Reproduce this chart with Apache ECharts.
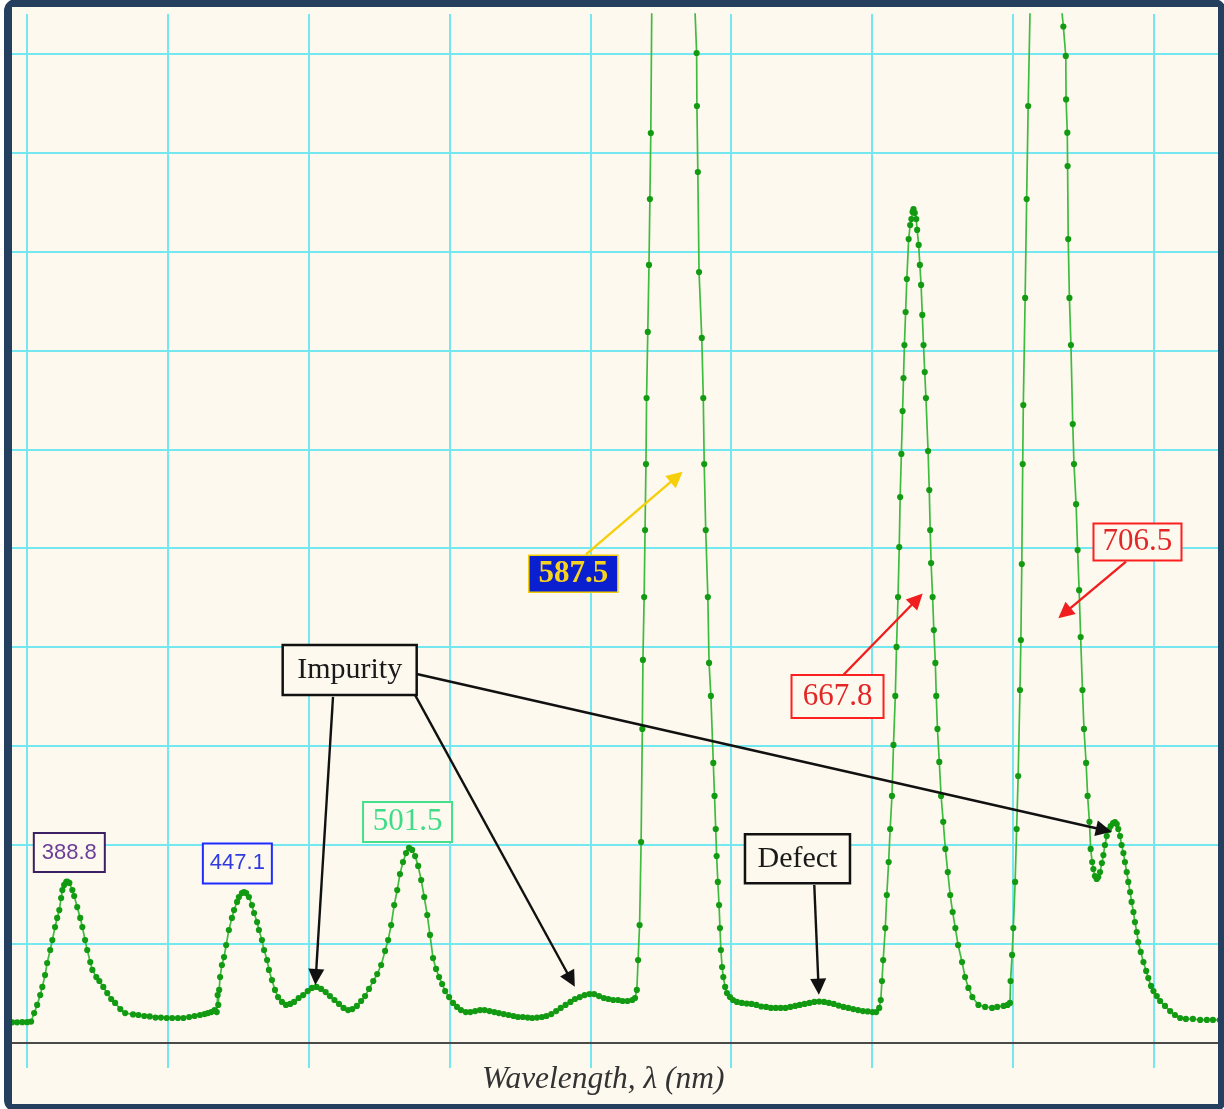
<!DOCTYPE html>
<html>
<head>
<meta charset="utf-8">
<title>Emission spectrum</title>
<script src="https://cdn.jsdelivr.net/npm/echarts@6/dist/echarts.min.js"></script>
<style>
  html, body { margin: 0; padding: 0; background: #ffffff; overflow: hidden; width: 1224px; height: 1109px; }
  #frame {
    position: absolute; left: 4px; top: -1px; width: 1222px; height: 1113px;
    box-sizing: border-box; border: 8px solid #253f5f; border-radius: 12px; background: #fdf9ee;
  }
  /* visible plot window; the chart canvas is larger and cropped by it */
  #window { position: absolute; left: 12px; top: 7px; width: 1206px; height: 1097px; overflow: hidden; }
  #chart { position: absolute; left: -127px; top: -52px; width: 1411px; height: 1188px; }
</style>
</head>
<body>
<div id="frame"></div>
<div id="window"><div id="chart"></div></div>
<script>
// Emission lines identified in the spectrum (nm)
const emissionLines = [388.8, 447.1, 501.5, 587.5, 667.8, 706.5];

// Measured spectrum: [wavelength (nm), intensity (counts)]
const spectrum = [
  [360.8,102],[362.4,102],[364.1,103],[365.7,102],[367.4,102],[369.0,103],[370.7,102],[372.3,102],[374.0,103],[375.6,103],[376.9,106],
  [377.9,149],[378.9,190],[379.9,240],[380.6,281],[381.5,341],[382.2,402],[383.2,468],[383.9,518],[384.8,584],[385.5,630],[386.2,670],
  [386.8,731],[387.2,771],[387.8,797],[388.5,812],[388.8,814],[389.5,807],[390.5,771],[391.1,741],[392.1,685],[393.1,630],[393.8,584],
  [394.7,518],[395.4,468],[396.4,407],[397.1,367],[398.4,331],[399.4,311],[400.7,281],[402.0,250],[403.3,220],[404.6,200],[406.3,169],[407.9,149],
  [410.5,142],[412.3,139],[414.2,134],[416.0,132],[417.9,126],[419.7,126],[421.6,124],[423.4,124],[425.3,124],[427.1,124],[429.0,129],
  [430.8,134],[432.6,139],[434.1,144],[435.2,149],[436.3,154],[437.4,164],
  [438.1,154],[438.4,240],[438.6,190],[438.9,266],
  [439.2,331],[439.8,392],[440.5,432],[441.2,493],[442.1,569],[443.1,630],[443.8,670],[444.8,711],[445.4,736],[446.4,756],[447.1,761],
  [447.8,756],[448.7,736],[449.7,695],[450.4,655],[451.4,609],[452.0,569],[453.0,518],[453.7,468],[454.7,417],[455.3,367],[456.3,316],
  [457.3,266],[458.3,230],[459.6,205],[460.9,190],[462.3,195],[463.6,205],
  [465.1,225],[466.6,240],[468.1,260],[469.5,276],[471.0,281],[472.5,271],[474.0,255],[475.4,235],[476.9,215],[478.4,195],[479.9,175],
  [481.4,164],[482.8,169],[484.3,185],
  [485.7,210],[487.0,235],[488.3,271],[489.7,311],[491.0,346],[492.3,392],[493.6,463],[494.6,518],[495.6,594],[496.6,695],[497.6,771],
  [498.5,852],[499.5,913],[500.5,958],[501.5,984],[502.5,974],[503.5,943],[504.5,893],[505.5,822],[506.5,736],[507.5,645],[508.4,544],
  [509.4,427],[510.4,372],[511.4,331],[512.4,296],[513.4,260],[514.7,230],[516.0,200],[517.3,180],
  [518.6,164],[520.2,154],[521.7,154],[523.3,159],[524.9,164],[526.4,164],[528.0,159],[529.6,154],[531.1,149],[532.7,144],[534.3,139],
  [535.9,134],[537.4,129],[539.0,129],[540.6,126],[542.1,124],[543.7,126],[545.3,129],[546.8,134],[548.4,144],[550.0,159],[551.5,175],
  [553.1,190],[554.7,205],[556.2,220],[557.8,230],[559.4,240],[561.0,245],[562.5,245],[564.1,235],[565.7,225],[567.2,220],[568.8,215],
  [570.4,215],[571.9,210],[573.5,210],[575.1,215],[576.0,225],
  [576.6,266],[577.0,417],[577.5,594],[578.0,1014],[578.4,1586],[578.6,1935],[579.0,2253],[579.3,2592],[579.6,2926],[579.8,3260],
  [580.2,3594],[580.6,3933],[580.9,4266],[581.2,4600],[581.5,5207],[587.5,6600],[595.8,5207],[596.3,5005],[596.4,4737],[596.7,4403],
  [597.1,3897],[598.0,3564],[598.5,3260],[598.8,2926],[599.3,2592],[600.0,2253],[600.4,1920],[601.0,1753],[601.8,1414],[602.2,1247],
  [602.6,1080],[602.9,943],[603.3,812],[603.7,695],[604.0,579],[604.3,468],[604.7,382],[605.1,331],[605.7,281],[606.3,250],[607.3,230],
  [608.3,215],[609.6,205],
  [611.2,200],[612.8,197],[614.4,195],[616.0,190],[617.6,182],[619.2,180],[620.8,175],[622.4,175],[624.0,175],[625.6,175],[627.2,180],
  [628.8,185],[630.3,190],[631.9,195],[633.5,200],[635.1,205],[636.7,207],[638.3,205],[639.9,200],[641.5,195],[643.1,187],[644.7,180],
  [646.3,175],[647.9,169],[649.5,164],[651.1,159],[652.7,157],[654.3,154],[655.5,154],
  [656.5,175],[657.0,215],[657.4,311],[657.8,417],[658.5,579],[659.0,746],[659.6,913],[660.1,1080],[660.7,1247],[661.2,1505],[661.8,1753],
  [662.2,2001],[662.7,2253],[663.1,2506],[663.4,2759],[663.8,2977],[664.2,3194],[664.5,3361],[664.8,3528],[665.2,3695],[665.6,3862],
  [666.2,4064],[666.7,4135],[667.1,4165],[667.5,4201],[667.8,4216],[668.2,4196],[668.7,4165],[669.0,4110],[669.5,4034],[669.9,3933],
  [670.3,3832],[670.7,3680],[671.1,3528],[671.5,3391],[671.9,3260],[672.6,2992],[673.0,2794],[673.3,2592],[673.6,2425],[674.1,2253],
  [674.5,2086],[675.0,1920],[675.3,1753],[675.7,1586],[676.3,1419],[676.9,1247],[677.6,1116],[678.3,979],[679.1,862],[679.9,746],
  [680.7,660],[681.6,579],[682.5,493],[683.8,407],[684.8,331],[685.9,276],[687.2,230],[689.2,190],[691.4,180],[693.7,175],[695.4,180],
  [697.5,185],[698.8,190],
  [699.6,200],[699.8,311],[700.3,443],[700.7,579],[701.3,812],[701.8,1080],[702.3,1348],[702.9,1783],[703.2,2036],[703.5,2420],
  [703.8,2926],[704.0,3224],[704.6,3766],[705.1,4266],[705.6,4737],[706.2,5207],[706.5,6800],[717.2,5139],[718.0,4990],[718.1,4770],
  [718.5,4602],[718.6,4433],[718.8,4064],[719.2,3766],[719.7,3528],[720.3,3128],[720.7,2926],[721.4,2723],[721.9,2491],[722.4,2288],
  [722.9,2051],[723.5,1783],[724.0,1586],[724.7,1414],[725.2,1247],[725.8,1116],[726.2,979],[726.7,913],[727.1,877],[727.6,842],
  [728.2,827],[728.7,837],[729.3,862],[729.9,908],[730.4,948],[730.9,999],[731.5,1044],[732.2,1075],[732.8,1095],[733.6,1110],
  [734.2,1115],[734.8,1105],[735.3,1080],[735.9,1044],[736.4,999],[737.0,958],[737.5,913],[738.1,862],[738.6,812],[739.2,761],
  [739.7,711],[740.3,660],[740.8,609],[741.4,559],[741.9,508],[742.7,458],[743.6,407],[744.5,362],[745.2,326],[746.1,286],[746.9,260],
  [748.0,235],[749.1,210],[750.7,185],[752.4,159],[754.0,139],[755.7,124],[757.6,119],[759.9,119],[762.3,114],[764.5,114],[766.5,114],
  [768.8,114],[770.8,114]
];

// Axis ranges
const WAVELENGTH_RANGE = [329, 793.5];
const INTENSITY_RANGE = [-128.98, 5202.3];     // visible plot band
const INTENSITY_GRID = [-500, 5500, 500];       // horizontal rulings: min, max, step
const DIVISIONS = [0, 10, 1];                   // vertical rulings: min, max, step

// Colours
const BG = '#fdf9ee';
const RULE = '#74e8f0';

// Wavelength tags (position in data units, box size in px, look)
const lineTags = [
  { nm: 388.8, at: [389.5, 961],   size: [71, 39], border: '#3d1f63', text: '#6b3f98', font: 'Liberation Sans', fs: 22 },
  { nm: 447.1, at: [444.9, 906],   size: [69, 40], border: '#1f2bff', text: '#2f3be0', font: 'Liberation Sans', fs: 22 },
  { nm: 501.5, at: [501.0, 1115],  size: [89, 40], border: '#44e08c', text: '#3fdc88', font: 'Liberation Serif', fs: 31 },
  { nm: 587.5, at: [555.65, 2371], size: [89, 37], border: '#f2cc00', text: '#f7d21e', font: 'Liberation Serif', fs: 31, fill: '#0a1fd0', bold: true, bw: 1.5 },
  { nm: 667.8, at: [642.75, 1750], size: [92, 43], border: '#ff1f1f', text: '#e32626', font: 'Liberation Serif', fs: 31 },
  { nm: 706.5, at: [741.64, 2532], size: [88, 37], border: '#ff1f1f', text: '#e32626', font: 'Liberation Serif', fs: 31 }
];

const noteTags = [
  { text: 'Impurity', at: [481.93, 1884], size: [134, 50] },
  { text: 'Defect',   at: [629.55, 929],  size: [105, 49] }
];

const arrows = [
  { from: [559.83, 2469], to: [591.7, 2887],  color: '#f6cf0a' },
  { from: [644.65, 1859], to: [670.82, 2271], color: '#f01e1e' },
  { from: [737.85, 2432], to: [715.54, 2146], color: '#f01e1e' },
  { from: [476.43, 1748], to: [470.6, 291],   color: '#111111' },
  { from: [503.46, 1758], to: [556.15, 282],  color: '#111111' },
  { from: [504.02, 1864], to: [733.14, 1066], color: '#111111' },
  { from: [635.09, 797],  to: [636.6, 242],   color: '#111111' }
];
const ARROW_HEAD = 16;

// A boxed text tag drawn as the label of an invisible mark point
function tag(name, coord, size, borderColor, borderWidth, fill, textStyle) {
  return {
    name: name,
    coord: coord,
    symbol: 'circle',
    symbolSize: 0,
    itemStyle: { color: 'rgba(0,0,0,0)' },
    label: Object.assign({
      show: true, position: 'inside', formatter: name,
      width: size[0] - borderWidth, height: size[1] - borderWidth, lineHeight: size[1] - borderWidth,
      padding: 0, align: 'center', verticalAlign: 'middle',
      backgroundColor: fill, borderColor: borderColor, borderWidth: borderWidth
    }, textStyle)
  };
}

const markPoints = lineTags.map(t => tag(
  t.nm.toFixed(1), t.at, t.size, t.border, t.bw || 2, t.fill || BG,
  { color: t.text, fontFamily: t.font, fontSize: t.fs, fontWeight: t.bold ? 'bold' : 'normal' }
)).concat(noteTags.map(n => tag(
  n.text, n.at, n.size, '#111111', 2.5, BG,
  { color: '#1a1a1a', fontFamily: 'Liberation Serif', fontSize: 30 }
)));

function arrowLines(ends) {
  return ends.map((e, i) => [
    { coord: e.from, lineStyle: { color: arrows[i].color, width: 2.4, type: 'solid' }, itemStyle: { color: arrows[i].color } },
    { coord: e.to }
  ]);
}

const hidden = { axisLine: { show: false }, axisTick: { show: false }, axisLabel: { show: false }, splitLine: { show: false } };

const chart = echarts.init(document.getElementById('chart'), null, { renderer: 'canvas' });
chart.setOption({
  animation: false,
  backgroundColor: BG,
  grid: [
    // plot band: spectrum + vertical rulings
    { left: 0.8, right: 1.2, top: 59, bottom: 75, containLabel: false },
    // horizontal rulings and baseline
    { left: 0.8, right: 1.2, top: 0.15, bottom: 1.65, containLabel: false }
  ],
  xAxis: [
    Object.assign({
      type: 'value', gridIndex: 0, position: 'bottom',
      min: WAVELENGTH_RANGE[0], max: WAVELENGTH_RANGE[1],
      name: 'Wavelength, λ (nm)', nameLocation: 'middle', nameGap: -4,
      nameTextStyle: {
        fontFamily: 'Liberation Serif', fontStyle: 'italic', fontSize: 31.5, color: '#333333',
        padding: [0, 0, 0, 26]
      }
    }, hidden),
    Object.assign({}, hidden, {
      type: 'value', gridIndex: 0, position: 'top',
      min: DIVISIONS[0], max: DIVISIONS[1], interval: DIVISIONS[2],
      splitLine: { show: true, lineStyle: { color: RULE, width: 2 } }
    }),
    Object.assign({}, hidden, {
      type: 'value', gridIndex: 1, min: 0, max: 1,
      axisLine: { show: true, onZero: true, lineStyle: { color: '#4a4a4a', width: 2 } }
    })
  ],
  yAxis: [
    Object.assign({ type: 'value', gridIndex: 0, min: INTENSITY_RANGE[0], max: INTENSITY_RANGE[1] }, hidden),
    Object.assign({}, hidden, {
      type: 'value', gridIndex: 1,
      min: INTENSITY_GRID[0], max: INTENSITY_GRID[1], interval: INTENSITY_GRID[2],
      splitLine: { show: true, lineStyle: { color: RULE, width: 2 } }
    })
  ],
  series: [{
    type: 'line',
    name: 'Spectrum',
    xAxisIndex: 0, yAxisIndex: 0,
    data: spectrum,
    clip: true,
    silent: true,
    z: 3,
    symbol: 'circle',
    symbolSize: 6.2,
    showSymbol: true,
    itemStyle: { color: '#129b12' },
    lineStyle: { color: '#3fbb3f', width: 1.7 },
    markLine: {
      silent: true,
      animation: false,
      symbol: ['none', 'triangle'],
      symbolSize: ARROW_HEAD,
      label: { show: false },
      emphasis: { disabled: true },
      data: arrowLines(arrows)
    },
    markPoint: {
      silent: true,
      animation: false,
      data: markPoints
    }
  }]
});

// Arrowheads are centred on the line end; pull each end back by half a head
// so the point of the triangle lands on the target.
const finder = { seriesIndex: 0 };
const adjusted = arrows.map(a => {
  const p1 = chart.convertToPixel(finder, a.from);
  const p2 = chart.convertToPixel(finder, a.to);
  const dx = p2[0] - p1[0], dy = p2[1] - p1[1];
  const len = Math.hypot(dx, dy);
  const q = [p2[0] - dx / len * ARROW_HEAD / 2, p2[1] - dy / len * ARROW_HEAD / 2];
  return { from: a.from, to: chart.convertFromPixel(finder, q) };
});
chart.setOption({ series: [{ markLine: { data: arrowLines(adjusted) } }] });
</script>
</body>
</html>
